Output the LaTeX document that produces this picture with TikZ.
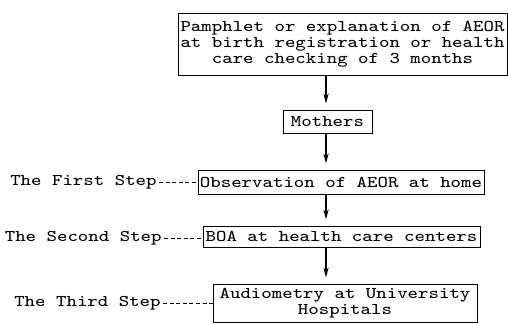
\documentclass[tikz,border=0pt]{standalone}
\usepackage{fontspec}
\newfontfamily\typefont[FakeStretch=1.2]{Latin Modern Mono}
\usetikzlibrary{arrows.meta,positioning}

\begin{document}
\begin{tikzpicture}[x=0.5pt, y=-0.5pt, >={Stealth[length=5pt,width=2.6pt]},
	font=\typefont\fontsize{8.2}{7.9}\selectfont,
	stepbox/.style={rectangle, draw, line width=0.5pt, inner sep=0pt, align=center},
	flow/.style={->, line width=0.75pt, shorten >=3pt},
	tie/.style={dash pattern=on 2pt off 1.3pt, line width=0.5pt}]
	\useasboundingbox (0,0) rectangle (508,323);
	
	\node[stepbox, minimum width=164.5pt, minimum height=31pt] (pamphlet) at (342.5,44)
		{Pamphlet or explanation of AEOR\\at birth registration or health\\care checking of 3 months};
	\node[stepbox, minimum width=44.5pt, minimum height=11.5pt] (mothers) at (327.5,121.5) {Mothers};
	\node[stepbox, minimum width=143pt, minimum height=12pt] (observ) at (341,182) {Observation of AEOR at home};
	\node[stepbox, minimum width=138.5pt, minimum height=10.5pt] (boa) at (341.5,236.5) {BOA at health care centers};
	\node[stepbox, minimum width=132pt, minimum height=19pt] (audio) at (345,303)
		{Audiometry at University\\Hospitals};
	
	\node[anchor=east, inner sep=1pt] (first) at (159,182) {The First Step};
	\node[anchor=east, inner sep=1pt] (second) at (164,238) {The Second Step};
	\node[anchor=east, inner sep=1pt] (third) at (163,303) {The Third Step};
	
	\coordinate (axis) at (326,0);
	\draw[flow] (pamphlet.south -| axis) -- (mothers.north -| axis);
	\draw[flow] (mothers.south -| axis) -- (observ.north -| axis);
	\draw[flow] (observ.south -| axis) -- (boa.north -| axis);
	\draw[flow] (boa.south -| axis) -- (audio.north -| axis);
	
	\draw[tie] (first.east) -- (first.east -| observ.west);
	\draw[tie] (second.east) -- (second.east -| boa.west);
	\draw[tie] (third.east) -- (third.east -| audio.west);
\end{tikzpicture}
\end{document}
